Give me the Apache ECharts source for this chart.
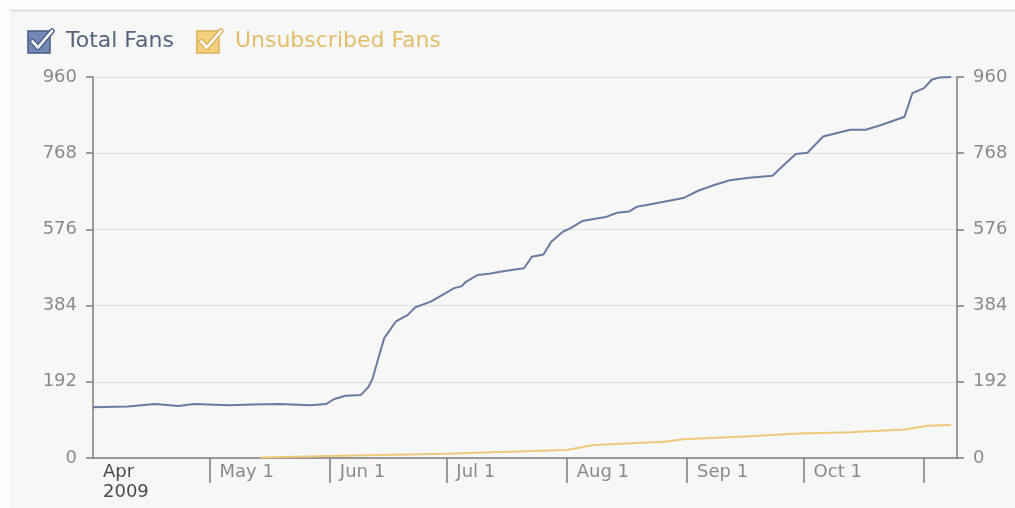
<!DOCTYPE html>
<html>
<head>
<meta charset="utf-8">
<script src="https://cdn.jsdelivr.net/npm/echarts@6/dist/echarts.min.js"></script>
<style>
html,body{margin:0;padding:0;background:#fcfcfc;}
#chart{width:1015px;height:508px;}
</style>
</head>
<body>
<div id="chart"></div>
<script>
// ---- data ----
const seriesNames = ['Total Fans', 'Unsubscribed Fans'];
const totalDates = ['2009-04-01','2009-04-10','2009-04-17','2009-04-23','2009-04-27','2009-05-06','2009-05-12','2009-05-19','2009-05-27','2009-05-31','2009-06-02','2009-06-05','2009-06-09','2009-06-11','2009-06-12','2009-06-13','2009-06-15','2009-06-18','2009-06-21','2009-06-23','2009-06-27','2009-06-30','2009-07-03','2009-07-05','2009-07-06','2009-07-09','2009-07-12','2009-07-16','2009-07-21','2009-07-23','2009-07-26','2009-07-28','2009-07-31','2009-08-02','2009-08-05','2009-08-11','2009-08-14','2009-08-17','2009-08-19','2009-08-23','2009-08-31','2009-09-04','2009-09-08','2009-09-12','2009-09-17','2009-09-23','2009-09-25','2009-09-29','2009-10-02','2009-10-06','2009-10-13','2009-10-17','2009-10-21','2009-10-27','2009-10-29','2009-11-01','2009-11-03','2009-11-05','2009-11-08'];
const totalValues = [128,130,136,131,136,133,135,136,133,136,148,157,159,180,200,235,302,344,360,380,394,411,428,433,444,461,464,471,478,507,513,545,570,579,597,607,618,621,633,640,655,674,688,700,706,711,730,766,769,810,827,827,839,860,919,932,953,959,960];
const unsubDates = ['2009-05-14','2009-06-01','2009-07-01','2009-07-15','2009-08-01','2009-08-08','2009-08-26','2009-08-31','2009-09-17','2009-09-30','2009-10-13','2009-10-27','2009-11-02','2009-11-08'];
const unsubValues = [1,5,11,15,20,33,41,47,55,62,65,72,81,83];
const labelDates = ['2009-04-01','2009-05-01','2009-06-01','2009-07-01','2009-08-01','2009-09-01','2009-10-01'];
const tickLabels = ['Apr\n2009','May 1','Jun 1','Jul 1','Aug 1','Sep 1','Oct 1'];
const tickDates = ['2009-05-01','2009-06-01','2009-07-01','2009-08-01','2009-09-01','2009-10-01','2009-11-01'];
const yTicks = [0,192,384,576,768,960];
const xMin = '2009-04-01T00:00:00';
const xMax = '2009-11-09T12:00:00';

// ---- helpers ----
function ts(s){ return Date.parse(s.length === 10 ? s + 'T00:00:00Z' : s + 'Z'); }
function checkbox(fill, edge){
  const svg = '<svg xmlns="http://www.w3.org/2000/svg" width="30" height="26" viewBox="0 0 30 26">' +
    '<rect x="1" y="3" width="22" height="22" fill="' + fill + '" stroke="' + edge + '" stroke-width="1.6"/>' +
    '<path d="M5.5 13.5 L11 19.5 L25 3" fill="none" stroke="' + edge + '" stroke-width="5.5" stroke-linecap="round" stroke-linejoin="round"/>' +
    '<path d="M5.5 13.5 L11 19.5 L25 3" fill="none" stroke="#ffffff" stroke-width="2.6" stroke-linecap="round" stroke-linejoin="round"/>' +
    '</svg>';
  return 'image://data:image/svg+xml;charset=utf-8,' + encodeURIComponent(svg);
}
const labelMap = {};
labelDates.forEach((d, i) => { labelMap[ts(d)] = tickLabels[i]; });

const chart = echarts.init(document.getElementById('chart'), null, {renderer: 'canvas'});
const font = 'DejaVu Sans';
const yAxisBase = {
  type: 'value', min: yTicks[0], max: yTicks[yTicks.length - 1], interval: 192,
  axisLine: {show: true, lineStyle: {color: '#7d7d7d', width: 1.5}},
  axisTick: {show: true, length: 7, lineStyle: {color: '#7d7d7d', width: 1.5}},
  axisLabel: {color: '#8a8a8a', fontSize: 18, fontFamily: font, margin: 16},
  splitLine: {show: true, lineStyle: {color: '#dedede', width: 1.2}}
};
chart.setOption({
  backgroundColor: '#f7f7f7',
  animation: false,
  graphic: [
    {type: 'rect', shape: {x: 0, y: 0, width: 1015, height: 9}, style: {fill: '#fcfcfc'}, silent: true, z: -10},
    {type: 'rect', shape: {x: 0, y: 0, width: 10, height: 508}, style: {fill: '#fcfcfc'}, silent: true, z: -10},
    {type: 'rect', shape: {x: 10, y: 9, width: 1005, height: 3}, style: {fill: '#e6e6e6'}, silent: true, z: -10}
  ],
  legend: {
    left: 27, top: 28, padding: 0, itemWidth: 30, itemHeight: 26, itemGap: 22,
    selectedMode: false,
    textStyle: {fontSize: 22, fontFamily: font, padding: [0, 0, 0, 4]},
    data: [
      {name: seriesNames[0], icon: checkbox('#7388b5', '#4e6187'), textStyle: {color: '#56647e'}},
      {name: seriesNames[1], icon: checkbox('#f3d17f', '#ddb35a'), textStyle: {color: '#e2be69'}}
    ]
  },
  grid: {left: 93, right: 58, top: 77, bottom: 50},
  xAxis: {
    type: 'value', min: ts(xMin), max: ts(xMax), scale: true,
    axisLine: {show: true, lineStyle: {color: '#7d7d7d', width: 1.5}},
    axisTick: {show: true, length: 25, customValues: tickDates.map(ts), lineStyle: {color: '#7d7d7d', width: 1.5}},
    axisLabel: {
      customValues: labelDates.map(ts), margin: 4, align: 'left',
      fontSize: 18, fontFamily: font, color: '#8a8a8a', lineHeight: 20, padding: [0, 0, 0, 10],
      formatter: function (v) {
        const t = labelMap[v] || '';
        if (t.indexOf('\n') >= 0) return t.split('\n').map(s => '{d|' + s + '}').join('\n');
        return t;
      },
      rich: {d: {color: '#4a4a4a', fontSize: 18, fontFamily: font, lineHeight: 20}}
    },
    splitLine: {show: false}
  },
  yAxis: [
    Object.assign({}, yAxisBase, {position: 'left'}),
    Object.assign({}, yAxisBase, {position: 'right', splitLine: {show: false}})
  ],
  series: [
    {
      name: seriesNames[0], type: 'line', yAxisIndex: 0, showSymbol: false,
      lineStyle: {color: '#6a7aa1', width: 2}, itemStyle: {color: '#6a7aa1'},
      data: totalDates.map((d, i) => [ts(d), totalValues[i]]), z: 3
    },
    {
      name: seriesNames[1], type: 'line', yAxisIndex: 0, showSymbol: false,
      lineStyle: {color: '#efc979', width: 2}, itemStyle: {color: '#efc979'},
      data: unsubDates.map((d, i) => [ts(d), unsubValues[i]]), z: 2
    }
  ]
});
</script>
</body>
</html>
